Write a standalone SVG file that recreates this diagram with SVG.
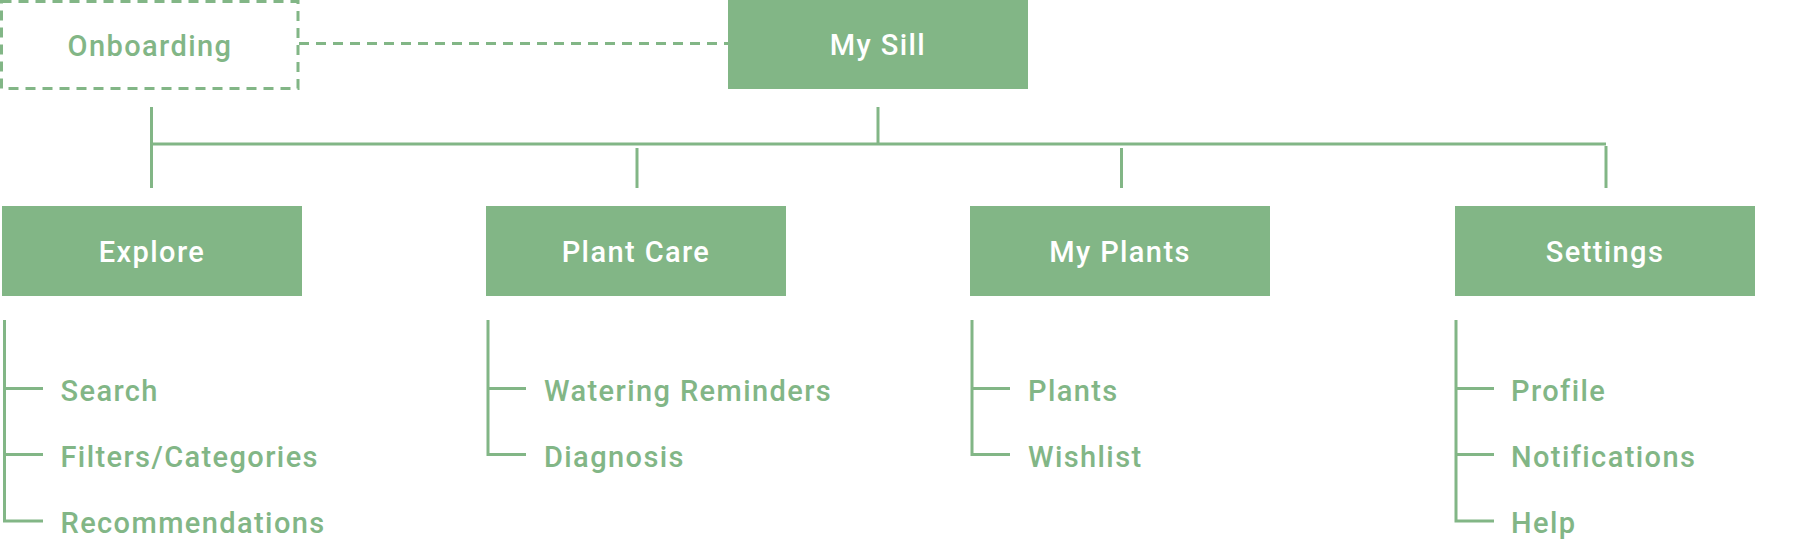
<svg xmlns="http://www.w3.org/2000/svg" width="1799" height="540" viewBox="0 0 1799 540">
  <style>
    .box { fill: #82b686; }
    .dbox { fill: none; stroke: #82b686; stroke-width: 3; stroke-dasharray: 10 7; }
    .ln { stroke: #82b686; stroke-width: 3; fill: none; }
    .dash { stroke: #82b686; stroke-width: 3; fill: none; stroke-dasharray: 10 7; }
    text { font-family: Roboto, "Liberation Sans", sans-serif; font-weight: 500; font-size: 29px; letter-spacing: 1.4px; }
    .wt { fill: #ffffff; text-anchor: middle; }
    .gt { fill: #82b686; }
    .gtm { fill: #82b686; text-anchor: middle; }
  </style>
  <rect width="1799" height="540" fill="#ffffff"/>

  <g id="connectors">
    <line class="dash" x1="299" y1="43.5" x2="728" y2="43.5"/>
    <line class="ln" x1="878" y1="107" x2="878" y2="144"/>
    <line class="ln" x1="151.5" y1="144" x2="1606" y2="144"/>
    <line class="ln" x1="151.5" y1="107" x2="151.5" y2="188"/>
    <line class="ln" x1="637" y1="148" x2="637" y2="188"/>
    <line class="ln" x1="1121.5" y1="148" x2="1121.5" y2="188"/>
    <line class="ln" x1="1606" y1="146" x2="1606" y2="188"/>
    <!-- Explore children -->
    <path class="ln" d="M4.5 320 V521 H43 M4.5 388.5 H43 M4.5 454.5 H43"/>
    <!-- Plant Care children -->
    <path class="ln" d="M488 320 V454.5 H526 M488 388.5 H526"/>
    <!-- My Plants children -->
    <path class="ln" d="M972 320 V454.5 H1010 M972 388.5 H1010"/>
    <!-- Settings children -->
    <path class="ln" d="M1456 320 V521 H1494 M1456 388.5 H1494 M1456 454.5 H1494"/>
  </g>

  <g id="onboarding">
    <rect class="dbox" x="1.5" y="1.5" width="296.5" height="87"/>
    <text class="gtm" x="150" y="55.5">Onboarding</text>
  </g>

  <g id="my-sill">
    <rect class="box" x="728" y="-1" width="300" height="90"/>
    <text class="wt" x="878" y="55">My Sill</text>
  </g>

  <g id="explore">
    <rect class="box" x="2" y="206" width="300" height="90"/>
    <text class="wt" x="152" y="262">Explore</text>
  </g>
  <g id="plant-care">
    <rect class="box" x="486" y="206" width="300" height="90"/>
    <text class="wt" x="636" y="262">Plant Care</text>
  </g>
  <g id="my-plants">
    <rect class="box" x="970" y="206" width="300" height="90"/>
    <text class="wt" x="1120" y="262">My Plants</text>
  </g>
  <g id="settings">
    <rect class="box" x="1455" y="206" width="300" height="90"/>
    <text class="wt" x="1605" y="262">Settings</text>
  </g>

  <g id="explore-items">
    <text class="gt" x="60.5" y="401">Search</text>
    <text class="gt" x="60.5" y="467">Filters/Categories</text>
    <text class="gt" x="60.5" y="533">Recommendations</text>
  </g>
  <g id="plant-care-items">
    <text class="gt" x="544" y="401">Watering Reminders</text>
    <text class="gt" x="544" y="467">Diagnosis</text>
  </g>
  <g id="my-plants-items">
    <text class="gt" x="1028" y="401">Plants</text>
    <text class="gt" x="1028" y="467">Wishlist</text>
  </g>
  <g id="settings-items">
    <text class="gt" x="1511" y="401">Profile</text>
    <text class="gt" x="1511" y="467">Notifications</text>
    <text class="gt" x="1511" y="533">Help</text>
  </g>
</svg>
